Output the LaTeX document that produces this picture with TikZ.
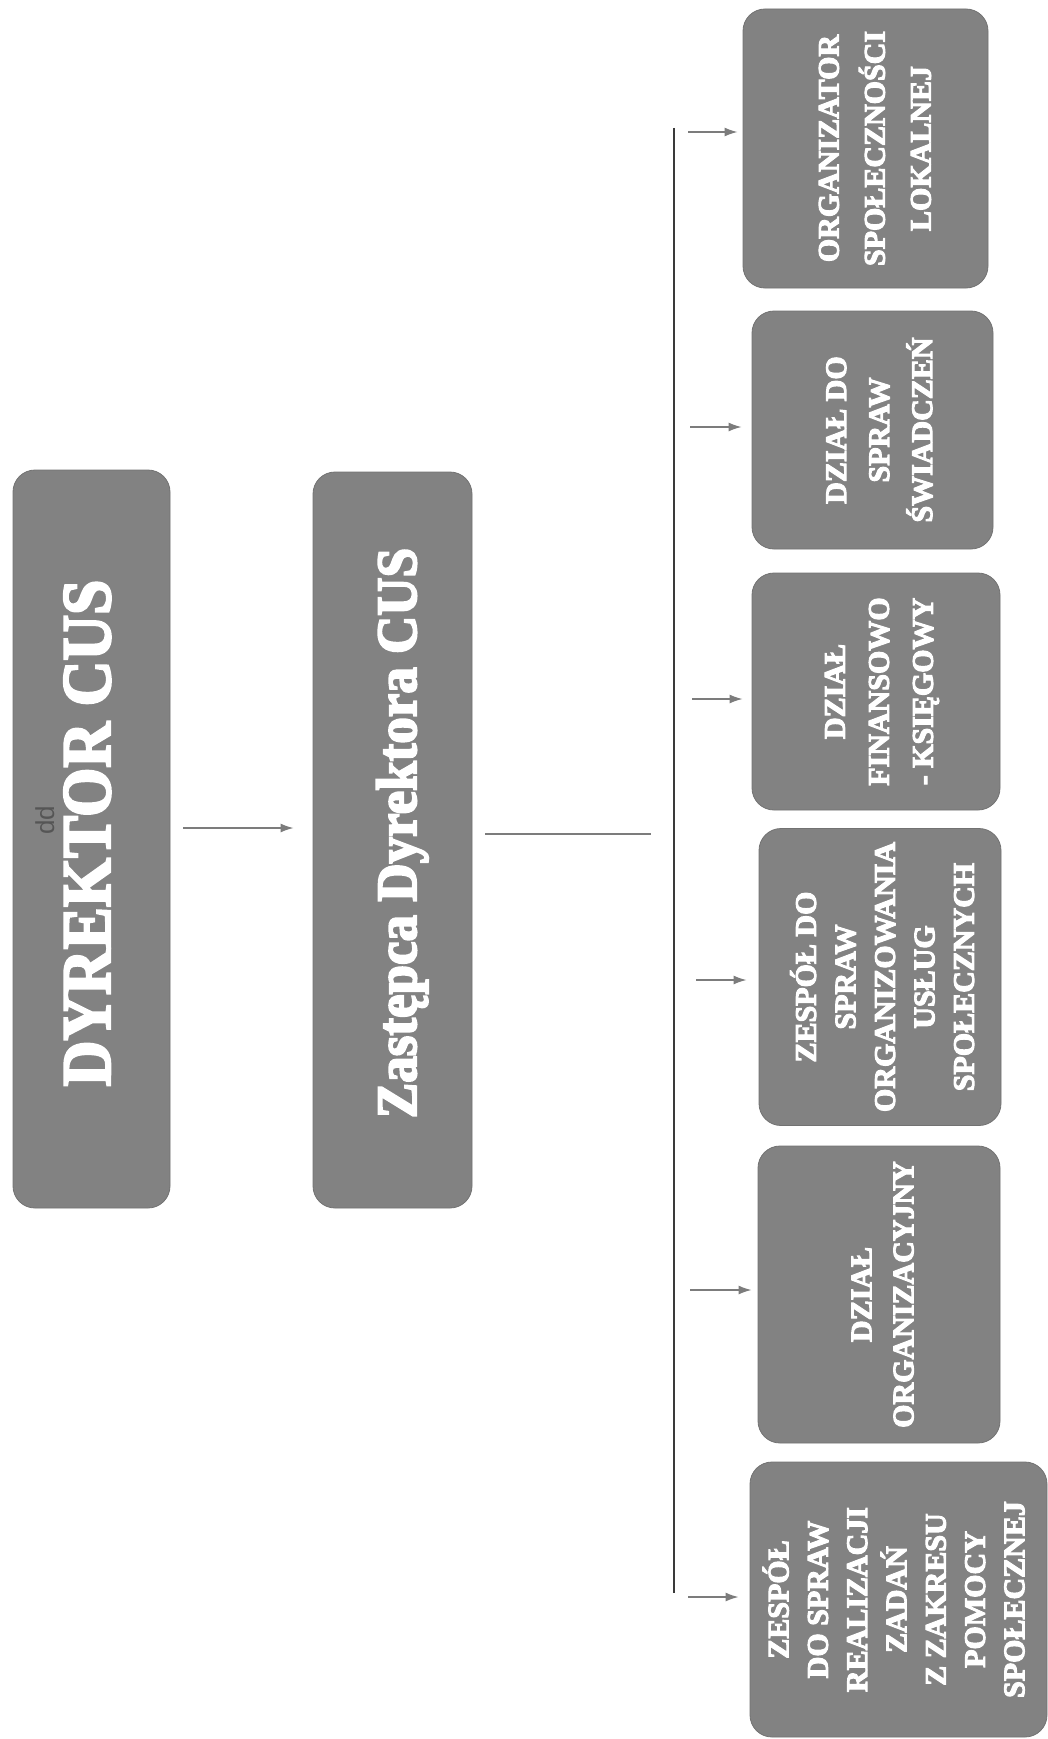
\documentclass[tikz,border=0pt]{standalone}
\usepackage{fontspec}
\setmainfont{Liberation Serif}
\newfontfamily\heavyfont{Liberation Serif Bold}[FakeBold=3.5]
\newfontfamily\ddfont{Liberation Sans}
\usetikzlibrary{arrows.meta}
\definecolor{boxgray}{HTML}{828282}
\definecolor{linegray}{HTML}{7C7C7C}
\definecolor{vlinecol}{HTML}{3A3A3A}
\definecolor{ddgray}{HTML}{555555}
\newcommand{\rtext}[2]{\rotatebox{90}{\heavyfont\fontsize{30}{#1}\selectfont\begin{tabular}{@{}c@{}}#2\end{tabular}}}
\begin{document}
\begin{tikzpicture}[x=1pt,y=-1pt,
  box/.style={fill=boxgray, draw=boxgray!88!black, line width=0.8pt, rounded corners=22pt, inner sep=0pt},
  bigtxt/.style={rotate=90, anchor=base, inner sep=0pt, text=white},
  deptxt/.style={inner sep=0pt, text=white},
  conn/.style={draw=linegray, line width=1.6pt},
  arr/.style={conn, -{Latex[length=13pt,width=9pt]}, color=linegray},
  vl/.style={draw=vlinecol, line width=1.8pt}]
\useasboundingbox[fill=white] (0,0) rectangle (1047,1739);
% main boxes
\node[box, minimum width=157pt, minimum height=738pt] (dyr) at (91.5,839) {};
\node[box, minimum width=159pt, minimum height=736pt] (zas) at (392.5,840) {};
\node[bigtxt, font=\heavyfont\fontsize{69.5}{80}\selectfont] (dyrt) at (110,833) {\scalebox{0.91}[1]{DYREKTOR CUS}};
\node[bigtxt, font=\heavyfont\fontsize{57}{66}\selectfont] (zast) at (416,833) {\scalebox{0.93}[1]{Zastępca Dyrektora CUS}};
\node[rotate=90, anchor=base, inner sep=0pt, text=ddgray, font=\ddfont\fontsize{26}{30}\selectfont] (dd) at (54,820) {dd};
% department boxes
\node[box, minimum width=245pt, minimum height=279pt] (org) at (865.5,148.5) {};
\node[box, minimum width=241pt, minimum height=238pt] (swi) at (872.5,430) {};
\node[box, minimum width=248pt, minimum height=237pt] (fin) at (876,691.5) {};
\node[box, minimum width=242pt, minimum height=297pt] (usl) at (880,977) {};
\node[box, minimum width=242pt, minimum height=297pt] (orgc) at (879,1294.5) {};
\node[box, minimum width=297pt, minimum height=275pt] (pom) at (898.5,1599.5) {};
\node[deptxt] (orgt) at ([xshift=10pt]org.center) {\rtext{46}{ORGANIZATOR\\SPOŁECZNOŚCI\\LOKALNEJ}};
\node[deptxt] (swit) at ([xshift=8pt]swi.center) {\rtext{43}{DZIAŁ DO\\SPRAW\\ŚWIADCZEŃ}};
\node[deptxt] (fint) at ([xshift=4pt]fin.center) {\rtext{44}{DZIAŁ\\FINANSOWO\\- KSIĘGOWY}};
\node[deptxt] (uslt) at ([xshift=7pt]usl.center) {\rtext{39.5}{ZESPÓŁ DO\\SPRAW\\ORGANIZOWANIA\\USŁUG\\SPOŁECZNYCH}};
\node[deptxt] (orgct) at ([xshift=5pt]orgc.center) {\rtext{42}{DZIAŁ\\ORGANIZACYJNY}};
\node[deptxt] (pomt) at ([xshift=0pt]pom.center) {\rtext{39.3}{ZESPÓŁ\\DO SPRAW\\REALIZACJI\\ZADAŃ\\Z ZAKRESU\\POMOCY\\SPOŁECZNEJ}};
% connectors
\coordinate (a1) at (183,828);
\draw[arr, shorten >=19pt] (a1) -- (a1 -| zas.west);
\coordinate (hend) at (651,834);
\draw[conn, shorten <=13pt] (hend -| zas.east) -- (hend);
\coordinate (vtop) at (674,128);
\coordinate (vbot) at (674,1593);
\draw[vl] (vtop) -- (vbot);
\coordinate (s1) at (688,132);
\coordinate (s2) at (690,427);
\coordinate (s3) at (692,699);
\coordinate (s4) at (696,980);
\coordinate (s5) at (690,1290);
\coordinate (s6) at (688,1597);
\draw[arr, shorten >=5pt] (s1) -- (s1 -| org.west);
\draw[arr, shorten >=10pt] (s2) -- (s2 -| swi.west);
\draw[arr, shorten >=9pt] (s3) -- (s3 -| fin.west);
\draw[arr, shorten >=12pt] (s4) -- (s4 -| usl.west);
\draw[arr, shorten >=6pt] (s5) -- (s5 -| orgc.west);
\draw[arr, shorten >=11pt] (s6) -- (s6 -| pom.west);
\end{tikzpicture}
\end{document}
